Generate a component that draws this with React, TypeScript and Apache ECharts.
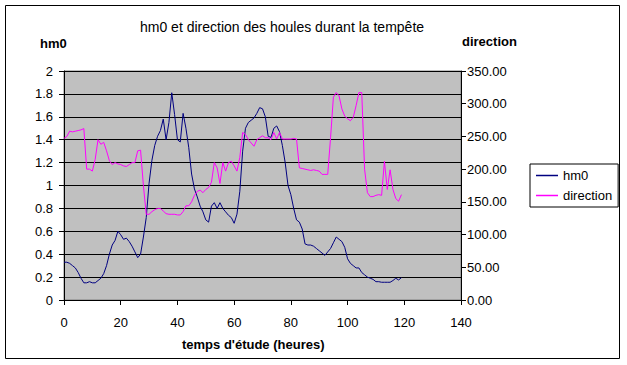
import React, { useEffect, useRef } from "react";
import * as echarts from "echarts";

const titleText = "hm0 et direction des houles durant la tempête";
const leftAxisName = "hm0";
const rightAxisName = "direction";
const xAxisName = "temps d'étude (heures)";
const seriesNames = ["hm0", "direction"];

// hourly values, hour 0 .. 119
const hm0Values = [
  0.33, 0.33, 0.32, 0.30, 0.28, 0.24, 0.19, 0.15, 0.15, 0.16,
  0.15, 0.15, 0.17, 0.19, 0.23, 0.30, 0.40, 0.48, 0.52, 0.60,
  0.57, 0.53, 0.54, 0.51, 0.47, 0.42, 0.37, 0.40, 0.55, 0.72,
  1.02, 1.22, 1.35, 1.43, 1.48, 1.58, 1.40, 1.55, 1.81, 1.62,
  1.40, 1.38, 1.63, 1.50, 1.33, 1.10, 0.97, 0.90, 0.82, 0.77,
  0.70, 0.68, 0.82, 0.85, 0.80, 0.85, 0.80, 0.77, 0.74, 0.72,
  0.67, 0.75, 0.95, 1.30, 1.50, 1.55, 1.57, 1.59, 1.63, 1.68,
  1.67, 1.60, 1.43, 1.42, 1.50, 1.52, 1.47, 1.35, 1.20, 1.00,
  0.92, 0.80, 0.70, 0.68, 0.62, 0.49, 0.48, 0.48, 0.47, 0.45,
  0.43, 0.41, 0.39, 0.42, 0.45, 0.50, 0.55, 0.53, 0.51, 0.46,
  0.36, 0.32, 0.30, 0.28, 0.28, 0.24, 0.22, 0.20, 0.19, 0.18,
  0.16, 0.16, 0.155, 0.155, 0.155, 0.155, 0.17, 0.19, 0.175, 0.195,
];

const directionValues = [
  247, 250, 258, 257, 258, 259, 260, 262, 200, 200,
  197, 215, 245, 238, 241, 228, 213, 207, 210, 208,
  207, 205, 204, 207, 210, 210, 228, 229, 175, 131,
  131, 135, 138, 140, 140, 136, 132, 131, 131, 131,
  130, 130, 135, 144, 144, 150, 160, 166, 168, 164,
  169, 172, 180, 210, 202, 178, 210, 197, 210, 212,
  205, 197, 218, 256, 253, 245, 240, 235, 245, 248,
  251, 248, 248, 245, 256, 246, 256, 246, 246, 246,
  246, 247, 246, 202, 201, 200, 199, 198, 199, 198,
  197, 192, 192, 192, 248, 310, 317, 312, 292, 281,
  277, 274, 279, 297, 317, 317, 200, 164, 158, 158,
  160, 161, 160, 212, 169, 199, 169, 155, 151, 161,
];

const FONT = "'Liberation Sans', Arial, sans-serif";

export default function App() {
  const ref = useRef<HTMLDivElement>(null);
  useEffect(() => {
    const chart = echarts.init(ref.current!, null, { renderer: "svg" });
    chart.setOption({
      animation: false,
      backgroundColor: "#ffffff",
      textStyle: { fontFamily: FONT },
      title: {
        text: titleText,
        left: 140,
        top: 20,
        padding: 0,
        textStyle: { fontFamily: FONT, fontSize: 14, fontWeight: "normal", color: "#000" },
      },
      legend: {
        orient: "vertical",
        left: 530,
        top: 164,
        padding: [4, 6, 4, 6],
        itemGap: 5,
        itemWidth: 22,
        itemHeight: 1.5,
        itemTextGap: 3,
        icon: "rect",
        borderColor: "#000",
        borderWidth: 1,
        backgroundColor: "#fff",
        data: seriesNames,
        textStyle: { fontFamily: FONT, fontSize: 13, color: "#000", lineHeight: 15 },
      },
      grid: {
        left: 64,
        right: 166,
        top: 71,
        bottom: 65,
        show: true,
        backgroundColor: "#C0C0C0",
        borderColor: "#808080",
        borderWidth: 1,
      },
      xAxis: {
        type: "value",
        min: 0,
        max: 140,
        interval: 20,
        axisLine: { lineStyle: { color: "#000" } },
        axisTick: { show: true, length: 5, lineStyle: { color: "#000" } },
        axisLabel: { color: "#000", fontSize: 13, fontFamily: FONT, margin: 16 },
        splitLine: { show: false },
      },
      yAxis: [
        {
          type: "value",
          min: 0,
          max: 2,
          interval: 0.2,
          axisLine: { show: true, lineStyle: { color: "#000" } },
          axisTick: { show: true, length: 5, lineStyle: { color: "#000" } },
          axisLabel: { color: "#000", fontSize: 13, fontFamily: FONT, margin: 11 },
          splitLine: { show: true, lineStyle: { color: "#000", width: 1 } },
        },
        {
          type: "value",
          min: 0,
          max: 350,
          interval: 50,
          position: "right",
          axisLine: { show: true, lineStyle: { color: "#000" } },
          axisTick: { show: true, length: 5, lineStyle: { color: "#000" } },
          axisLabel: {
            color: "#000",
            fontSize: 13,
            fontFamily: FONT,
            margin: 6,
            formatter: (v: number) => v.toFixed(2),
          },
          splitLine: { show: false },
        },
      ],
      series: [
        {
          name: seriesNames[0],
          type: "line",
          yAxisIndex: 0,
          symbol: "none",
          color: "#000080",
          lineStyle: { color: "#000080", width: 1 },
          data: hm0Values.map((v, i) => [i, v]),
        },
        {
          name: seriesNames[1],
          type: "line",
          yAxisIndex: 1,
          symbol: "none",
          color: "#FF00FF",
          lineStyle: { color: "#FF00FF", width: 1 },
          data: directionValues.map((v, i) => [i, v]),
        },
      ],
      graphic: [
        {
          type: "rect",
          shape: { x: 5.5, y: 5.5, width: 614, height: 353 },
          style: { fill: "none", stroke: "#000", lineWidth: 1 },
          silent: true,
        },
        {
          type: "text",
          left: 40,
          top: 37,
          style: { text: leftAxisName, fill: "#000", font: `bold 13px ${FONT}` },
        },
        {
          type: "text",
          left: 462,
          top: 35,
          style: { text: rightAxisName, fill: "#000", font: `bold 13px ${FONT}` },
        },
        {
          type: "text",
          left: 182,
          top: 338,
          style: { text: xAxisName, fill: "#000", font: `bold 13px ${FONT}` },
        },
      ],
    });
    return () => chart.dispose();
  }, []);
  return (
    <div
      ref={ref}
      style={{ position: "fixed", left: 0, top: 0, width: 627, height: 365 }}
    />
  );
}
